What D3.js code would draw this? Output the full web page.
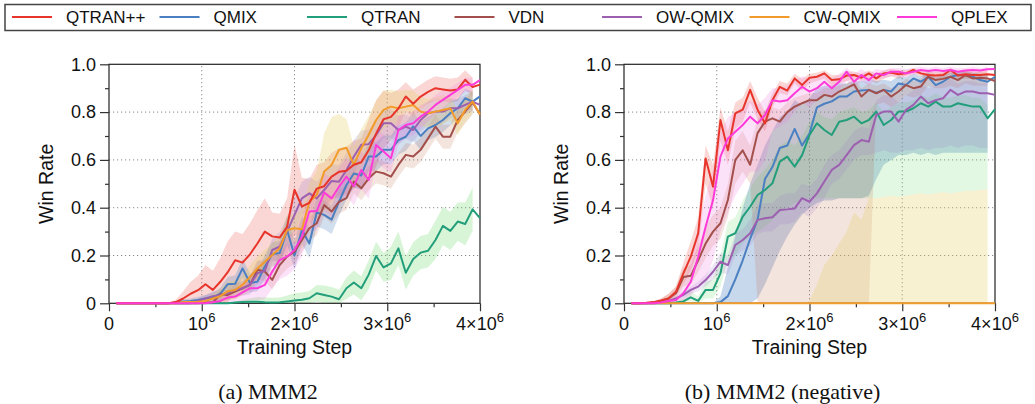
<!DOCTYPE html>
<html>
<head>
<meta charset="utf-8">
<script src="https://cdn.jsdelivr.net/npm/d3@7"></script>
<style>
body { margin: 0; background: #fff; }
svg { display: block; font-family: "Liberation Sans", Arial, Helvetica, sans-serif; }
</style>
</head>
<body>
<svg id="fig" width="1035" height="404"></svg>
<script>
// training steps: 50 evaluation points, 80k apart
var stepX = d3.range(1, 51).map(function(i) { return i * 80000; });

var methods = ["QTRAN++", "QMIX", "QTRAN", "VDN", "OW-QMIX", "CW-QMIX", "QPLEX"];
var lineColors = ["#e8352b", "#4a7fc1", "#229e7a", "#a3504d", "#9d5fb0", "#f29b2a", "#fe3bd9"];
var bandColors = ["#e8352b", "#4a7fc1", "#4fd34f", "#c0603a", "#9a7cc6", "#e6cf6a", "#f070e0"];
var bandAlphaA = [0.2, 0.25, 0.22, 0.17, 0.22, 0.3, 0.2];
var bandAlphaB = [0.2, 0.3, 0.16, 0.17, 0.18, 0.3, 0.2];

var xTicks = [0, 1e6, 2e6, 3e6, 4e6];
var xTickLabels = [["0", ""], ["10", "6"], ["2×10", "6"], ["3×10", "6"], ["4×10", "6"]];
var xMinor = [0.5e6, 1.5e6, 2.5e6, 3.5e6];
var yTicks = [0, 0.2, 0.4, 0.6, 0.8, 1.0];
var yTickLabels = ["0", "0.2", "0.4", "0.6", "0.8", "1.0"];
var yMinor = [0.1, 0.3, 0.5, 0.7, 0.9];

// ---- (a) MMM2 : mean win rate ----
var a_qtranpp = [0,0,0,0,0,0,0,0, .005,.02,.04,.055,.08,.056,.09,.13,.18,.17,.205,.25,
  .30,.28,.275,.32,.475,.405,.42,.48,.49,.53, .55,.555,.58,.59,.64,.71,.77,.78,.815,.865,
  .835,.865,.885,.90,.895,.89,.895,.935,.905,.915];
var a_qmix = [0,0,0,0,0,0,0,0, .003,.008,.01,.014,.02,.024,.04,.08,.082,.146,.085,.09,
  .154,.205,.21,.307,.20,.307,.25,.38,.37,.35, .425,.495,.543,.535,.614,.614,.642,.642,.683,.697,
  .74,.70,.732,.746,.767,.795,.816,.858,.844,.866];
var a_qtran = [0,0,0,0,0,0,0,0,0,0,0,0,0,0,0,0, .003,.005,.006,.006,
  .004,.003,.004,.008,.012,.015,.021,.042,.035,.028, .017,.063,.087,.063,.12,.198,.15,.167,.23,.128,
  .185,.212,.22,.265,.324,.303,.342,.332,.393,.356];
var a_vdn = [0,0,0,0,0,0,0,0,0,0,0,0, .003,.004,.038,.035,.049,.063,.077,.14,
  .133,.098,.16,.195,.216,.265,.314,.335,.411,.384, .425,.44,.509,.481,.523,.551,.544,.53,.579,.621,
  .614,.642,.69,.739,.697,.697,.767,.802,.84,.79];
var a_owqmix = [0,0,0,0,0,0,0,0,0,0,0, .01,.02,.03,.035,.042,.056,.063,.077,.126,
  .136,.223,.237,.30,.37,.439,.46,.439,.474,.512, .509,.558,.614,.663,.666,.704,.753,.753,.725,.739,
  .725,.767,.795,.802,.802,.816,.816,.83,.844,.83];
var a_cwqmix = [0,0,0,0,0,0,0,0,0, .005,.005,.005,.01,.02,.03,.05,.056,.077,.11,.146,
  .174,.202,.23,.307,.314,.31,.425,.453,.551,.579, .642,.651,.579,.649,.705,.767,.809,.823,.816,.823,
  .83,.802,.795,.802,.809,.816,.753,.809,.844,.79];
var a_qplex = [0,0,0,0,0,0,0,0,0,0,0,0,0, .004,.01,.024,.028,.046,.063,.063,
  .077,.133,.181,.195,.223,.279,.384,.386,.464,.439, .488,.53,.49,.558,.516,.662,.635,.607,.725,.746,
  .753,.781,.802,.83,.851,.872,.893,.914,.914,.934];

// (a) half width of the shaded band (first 49 points)
var a_sd_qtranpp = [0,0,0,0,0,0,0,0, .01,.03,.05,.06,.08,.08,.1,.13,.12,.12,.13,.14,
  .14,.1,.1,.12,.19,.12,.1,.1,.1,.1, .1,.1,.1,.1,.13,.14,.12,.1,.08,.06, .06,.05,.05,.05,.05,.05,.05,.04,.04];
var a_sd_qmix = [0,0,0,0,0,0,0,0, .003,.008,.01,.012,.015,.02,.025,.03,.035,.04,.04,.04,
  .05,.05,.05,.06,.06,.06,.06,.06,.06,.06, .06,.06,.06,.06,.06,.06,.06,.06,.06,.06, .06,.06,.05,.05,.05,.05,.04,.04,.04];
var a_sd_qtran = [0,0,0,0,0,0,0,0,0,0,0,0,0,0,0,0, .005,.01,.015,.02,
  .02,.02,.02,.025,.03,.03,.03,.035,.04,.04, .04,.045,.05,.05,.06,.06,.06,.07,.07,.07, .07,.07,.07,.08,.08,.08,.08,.09,.09];
var a_sd_vdn = [0,0,0,0,0,0,0,0,0,0,0,0, .005,.01,.02,.02,.03,.03,.03,.04,
  .04,.04,.05,.05,.05,.05,.05,.05,.05,.05, .05,.05,.05,.05,.05,.05,.05,.05,.05,.05, .05,.05,.05,.05,.05,.05,.05,.05,.05];
var a_sd_owqmix = [0,0,0,0,0,0,0,0,0,0,0, .01,.015,.02,.02,.03,.03,.03,.04,.05,
  .05,.05,.06,.06,.07,.07,.07,.07,.07,.07, .07,.07,.07,.06,.06,.06,.06,.06,.06,.05, .05,.05,.05,.05,.05,.04,.04,.04,.04];
var a_sd_cwqmix = [0,0,0,0,0,0,0,0,0, .005,.005,.005,.01,.02,.03,.04,.04,.04,.05,.05,
  .05,.05,.05,.06,.06,.08,.08,.1,.16,.2, .15,.12,.08,.08,.08,.08,.08,.07,.07,.07, .06,.06,.06,.06,.06,.05,.05,.05,.05];
var a_sd_qplex = [0,0,0,0,0,0,0,0,0,0,0,0,0, .005,.01,.02,.03,.04,.05,.05,
  .06,.07,.08,.08,.08,.08,.08,.08,.08,.08, .08,.08,.08,.08,.08,.07,.07,.06,.06,.05, .05,.05,.04,.04,.04,.03,.03,.03,.03];

// ---- (b) MMM2 (negative) : mean win rate ----
var b_qtranpp = [0,0,.002,.005,.012,.02,.048,.125,.195,.293,
  .606,.488,.767,.64,.795,.81,.893,.81,.753,.85, .906,.89,.941,.913,.944,.948,.962,.934,.937,.953,
  .955,.944,.962,.941,.962,.966,.958,.962,.976,.962, .955,.953,.955,.976,.953,.958,.955,.955,.958,.955];
var b_qmix = [0,0,0,0,0,0,0,0,0,0,0,0, .005,.03,.10,.18,.27,.35,.52,.57,
  .65,.66,.73,.66,.71,.82,.835,.845,.865,.865, .886,.89,.893,.88,.893,.886,.92,.913,.941,.927,
  .948,.913,.927,.948,.955,.955,.948,.934,.927,.948];
var b_qtran = [0,0,0,0,0,0,.003,.008,.025,.01,
  .056,.056,.125,.279,.293,.363,.404,.453,.474,.502, .593,.614,.572,.62,.704,.753,.725,.704,.76,.767,
  .781,.753,.767,.802,.746,.767,.802,.802,.816,.837, .823,.844,.823,.823,.837,.83,.823,.823,.774,.812];
var b_vdn = [0,0,0,.003,.01,.02,.042,.11,.115,.18,
  .25,.30,.335,.432,.60,.64,.58,.712,.76,.774, .76,.80,.823,.837,.85,.85,.872,.865,.886,.90,
  .916,.865,.893,.879,.893,.865,.886,.913,.90,.907, .948,.934,.939,.948,.934,.955,.941,.944,.941,.93];
var b_owqmix = [0,0,0,0,.003,.01,.02,.035,.056,.07,
  .097,.132,.174,.16,.244,.265,.293,.349,.356,.36, .39,.393,.397,.44,.425,.46,.51,.558,.579,.62,
  .662,.683,.676,.788,.802,.802,.76,.809,.83,.865, .837,.85,.858,.893,.872,.886,.886,.879,.879,.872];
var b_cwqmix = [0,0,0,0,0,0,0,0,0,0, 0,0,0,0,0,0,0,0,0,0, 0,0,0,0,0,0,0,0,0,0,
  0,0,0,0,0,0,0,0,0,0, 0,0,0,0,0,0,0,0,0,0];
var b_qplex = [0,0,0,0,.003,.01,.014,.042,.09,.195,
  .32,.432,.614,.69,.718,.746,.781,.753,.788,.85, .844,.85,.879,.906,.886,.90,.927,.90,.927,.969,
  .927,.955,.934,.962,.955,.969,.969,.962,.969,.976, .972,.976,.972,.976,.969,.974,.976,.974,.979,.98];

// (b) lower / upper edge of the shaded band (first 49 points)
var b_lo_qtranpp = [0,0,0,0,.005,.01,.03,.08,.14,.22, .5,.4,.68,.58,.73,.76,.84,.77,.72,.82,
  .88,.87,.92,.89,.92,.93,.94,.91,.92,.93, .94,.93,.94,.92,.94,.95,.94,.95,.96,.95, .94,.94,.94,.96,.94,.94,.94,.94,.94];
var b_hi_qtranpp = [0,0,.005,.01,.02,.04,.07,.17,.26,.36, .66,.58,.82,.72,.84,.86,.93,.86,.8,.88,
  .93,.92,.96,.94,.96,.965,.975,.955,.955,.97, .97,.96,.975,.96,.975,.98,.975,.975,.985,.975, .97,.97,.97,.985,.97,.975,.97,.97,.975];
var b_lo_qmix = [0,0,0,0,0,0,0,0,0,0, 0,0,0,0,0,0,0,.02,.08,.15,
  .22,.28,.33,.37,.40,.42,.43,.43,.44,.44, .44,.44,.45,.52,.58,.6,.62,.62,.63,.62, .63,.62,.63,.63,.63,.63,.63,.63,.63];
var b_hi_qmix = [0,0,0,0,0,0,0,0,0,0, 0,0,.03,.15,.28,.4,.5,.58,.66,.72,
  .78,.8,.85,.83,.86,.9,.91,.91,.92,.92, .93,.93,.935,.93,.935,.93,.95,.945,.96,.95, .965,.945,.955,.965,.97,.97,.965,.96,.955];
var b_lo_qtran = [0,0,0,0,0,0,0,0,.01,0, .02,.02,.07,.18,.2,.25,.28,.3,.32,.35,
  .38,.40,.42,.43,.44,.44,.44,.44,.44,.44, .44,.44,.44,.44,.445,.45,.445,.45,.455,.46, .455,.46,.465,.46,.465,.47,.47,.475,.475];
var b_hi_qtran = [0,0,0,0,0,0,.01,.02,.05,.03, .09,.1,.2,.34,.36,.43,.48,.53,.56,.6,
  .66,.68,.66,.7,.76,.8,.78,.77,.8,.81, .82,.8,.81,.84,.8,.82,.84,.84,.85,.87, .86,.88,.86,.86,.87,.87,.86,.86,.83];
var b_lo_vdn = [0,0,0,0,0,0,.02,.07,.08,.13, .19,.24,.27,.36,.5,.55,.5,0,0,0,
  0,0,0,0,0,0,0,0,0,0, 0,0,0,.83,.84,.82,.84,.87,.86,.87, .91,.9,.9,.91,.9,.92,.91,.91,.91];
var b_hi_vdn = [0,0,0,.005,.02,.04,.07,.15,.16,.24, .32,.37,.4,.5,.68,.72,.66,.77,.81,.82,
  .81,.84,.86,.87,.88,.88,.9,.9,.91,.92, .94,.9,.92,.91,.92,.9,.91,.94,.93,.94, .97,.96,.965,.97,.96,.975,.965,.97,.965];
var b_lo_owqmix = [0,0,0,0,0,0,.01,.02,.04,.05, .07,.1,.13,.12,.2,.22,.24,.29,.3,.3,
  .33,.33,.34,.38,.36,.4,.44,.5,.52,.56, .6,.62,.62,.63,.64,.63,.63,.64,.64,.65, .64,.65,.65,.66,.65,.66,.66,.65,.65];
var b_hi_owqmix = [0,0,0,0,.005,.02,.03,.05,.07,.09, .12,.16,.21,.2,.29,.31,.35,.41,.42,.42,
  .45,.46,.46,.5,.49,.52,.58,.62,.64,.68, .72,.74,.73,.85,.87,.87,.84,.87,.89,.92, .9,.91,.92,.94,.92,.93,.93,.92,.92];
var b_lo_cwqmix = [0,0,0,0,0,0,0,0,0,0, 0,0,0,0,0,0,0,0,0,0, 0,0,0,0,0,0,0,0,0,0,
  0,0,0,0,0,0,0,0,0,0, 0,0,0,0,0,0,0,0,0];
var b_hi_cwqmix = [0,0,0,0,0,0,0,0,0,0, 0,0,0,0,0,0,0,0,0,0, 0,0,0,0,.01,.08,.16,.2,.25,.3,
  .38,.35,.44,.44,.445,.45,.445,.45,.455,.46, .455,.46,.465,.46,.465,.47,.47,.475,.475];
var b_lo_qplex = [0,0,0,0,0,0,0,.01,.03,.08, .1,.18,.3,.38,.45,.5,.55,.55,.6,.72,
  .74,.76,.8,.84,.82,.85,.88,.86,.89,.93, .9,.93,.91,.94,.94,.95,.95,.945,.955,.96, .96,.965,.96,.965,.955,.965,.965,.965,.97];
var b_hi_qplex = [0,0,0,0,.008,.02,.03,.08,.18,.32, .45,.56,.72,.78,.8,.82,.85,.83,.86,.9,
  .9,.91,.93,.95,.94,.95,.96,.94,.96,.985, .96,.98,.96,.98,.975,.985,.985,.98,.985,.99, .985,.99,.985,.99,.985,.985,.99,.985,.99];

var svg = d3.select("#fig");

// build band edges for (a) from mean +- half width
function symBand(mean, sd) {
    return {
        lo: sd.map(function(s, i) { return Math.max(0, mean[i] - s); }),
        hi: sd.map(function(s, i) { return Math.min(1, mean[i] + s); })
    };
}

var aMeans = [a_qtranpp, a_qmix, a_qtran, a_vdn, a_owqmix, a_cwqmix, a_qplex];
var aSd = [a_sd_qtranpp, a_sd_qmix, a_sd_qtran, a_sd_vdn, a_sd_owqmix, a_sd_cwqmix, a_sd_qplex];
var seriesA = aMeans.map(function(m, k) {
    var b = symBand(m, aSd[k]);
    return {k: k, mean: m, lo: b.lo, hi: b.hi};
});

var bMeans = [b_qtranpp, b_qmix, b_qtran, b_vdn, b_owqmix, b_cwqmix, b_qplex];
var bLo = [b_lo_qtranpp, b_lo_qmix, b_lo_qtran, b_lo_vdn, b_lo_owqmix, b_lo_cwqmix, b_lo_qplex];
var bHi = [b_hi_qtranpp, b_hi_qmix, b_hi_qtran, b_hi_vdn, b_hi_owqmix, b_hi_cwqmix, b_hi_qplex];
var seriesB = bMeans.map(function(m, k) {
    return {k: k, mean: m, lo: bLo[k], hi: bHi[k]};
});

// order in which lines are stacked (last is on top)
var lineOrder = [1, 2, 3, 4, 5, 0, 6];

function drawPanel(left, right, series, alphas, caption, capX, ylabX) {
    var x = d3.scaleLinear().domain([0, 4e6]).range([left, right]);
    var y = d3.scaleLinear().domain([0, 1]).range([303.3, 64.3]);
    var g = svg.append("g");

    // dotted grid
    g.selectAll(".gx").data([1e6, 2e6, 3e6]).enter().append("line")
        .attr("x1", function(d) { return x(d); }).attr("x2", function(d) { return x(d); })
        .attr("y1", y(0)).attr("y2", y(1))
        .attr("stroke", "#8a8a8a").attr("stroke-width", 1).attr("stroke-dasharray", "1.2,2.8");
    g.selectAll(".gy").data([0.2, 0.4, 0.6, 0.8]).enter().append("line")
        .attr("x1", x(0)).attr("x2", x(4e6))
        .attr("y1", function(d) { return y(d); }).attr("y2", function(d) { return y(d); })
        .attr("stroke", "#8a8a8a").attr("stroke-width", 1).attr("stroke-dasharray", "1.2,2.8");

    // shaded bands
    series.forEach(function(s) {
        var area = d3.area()
            .x(function(d, i) { return x(stepX[i]); })
            .y0(function(d, i) { return y(s.lo[i]); })
            .y1(function(d, i) { return y(s.hi[i]); });
        g.append("path").datum(s.lo).attr("d", area)
            .attr("fill", bandColors[s.k]).attr("fill-opacity", alphas[s.k]).attr("stroke", "none");
    });

    // frame
    g.append("rect").attr("x", x(0)).attr("y", y(1))
        .attr("width", x(4e6) - x(0)).attr("height", y(0) - y(1))
        .attr("fill", "none").attr("stroke", "#222").attr("stroke-width", 1.2);

    // ticks
    var axX = g.append("g").attr("transform", "translate(0," + y(0) + ")")
        .call(d3.axisBottom(x).tickValues(xTicks).tickSize(8).tickFormat(""));
    var axXm = g.append("g").attr("transform", "translate(0," + y(0) + ")")
        .call(d3.axisBottom(x).tickValues(xMinor).tickSize(4).tickFormat(""));
    var axY = g.append("g").attr("transform", "translate(" + x(0) + ",0)")
        .call(d3.axisLeft(y).tickValues(yTicks).tickSize(9).tickFormat(""));
    var axYm = g.append("g").attr("transform", "translate(" + x(0) + ",0)")
        .call(d3.axisLeft(y).tickValues(yMinor).tickSize(4).tickFormat(""));
    [axX, axXm, axY, axYm].forEach(function(a) {
        a.select(".domain").remove();
        a.selectAll("line").attr("stroke", "#333").attr("stroke-width", 1.2);
    });

    // tick labels
    var xl = g.selectAll(".xl").data(xTicks).enter().append("text")
        .attr("x", function(d) { return x(d); }).attr("y", 329.5)
        .attr("text-anchor", "middle").attr("font-size", 18).attr("fill", "#111");
    xl.append("tspan").text(function(d, i) { return xTickLabels[i][0]; });
    xl.append("tspan").attr("dy", -8).attr("font-size", 13)
        .text(function(d, i) { return xTickLabels[i][1]; });

    g.selectAll(".yl").data(yTicks).enter().append("text")
        .attr("x", x(0) - 13).attr("y", function(d) { return y(d); })
        .attr("dy", "0.35em").attr("text-anchor", "end")
        .attr("font-size", 18).attr("fill", "#111")
        .text(function(d, i) { return yTickLabels[i]; });

    // axis titles
    g.append("text").attr("x", (left + right) / 2).attr("y", 353.5)
        .attr("text-anchor", "middle").attr("font-size", 19.5).attr("fill", "#111")
        .text("Training Step");
    g.append("text").attr("transform", "translate(" + ylabX + "," + ((y(0) + y(1)) / 2) + ") rotate(-90)")
        .attr("text-anchor", "middle").attr("font-size", 19.5).attr("fill", "#111")
        .text("Win Rate");

    // mean curves
    lineOrder.forEach(function(k) {
        var s = series[k];
        var line = d3.line()
            .x(function(d, i) { return x(stepX[i]); })
            .y(function(d) { return y(d); });
        g.append("path").datum(s.mean).attr("d", line)
            .attr("fill", "none").attr("stroke", lineColors[k])
            .attr("stroke-width", 2).attr("stroke-linejoin", "round");
    });

    // caption
    g.append("text").attr("x", capX).attr("y", 399)
        .attr("text-anchor", "middle").attr("font-size", 22)
        .attr("font-family", "'Liberation Serif', 'Times New Roman', serif").attr("fill", "#111")
        .text(caption);
}

drawPanel(109, 480, seriesA, bandAlphaA, "(a) MMM2", 268, 53);
drawPanel(624, 995, seriesB, bandAlphaB, "(b) MMM2 (negative)", 782.5, 568);

// legend across the top
var lg = svg.append("g");
lg.append("rect").attr("x", 5).attr("y", 4.5).attr("width", 1026).attr("height", 26)
    .attr("fill", "#fff").attr("stroke", "#444").attr("stroke-width", 1.5);
methods.forEach(function(m, k) {
    var lx = 12 + 147.5 * k;
    lg.append("line").attr("x1", lx).attr("x2", lx + 40).attr("y1", 17).attr("y2", 17)
        .attr("stroke", lineColors[k]).attr("stroke-width", 2);
    lg.append("text").attr("x", lx + 54).attr("y", 23)
        .attr("font-size", 17).attr("fill", "#111").text(m);
});
</script>
</body>
</html>
